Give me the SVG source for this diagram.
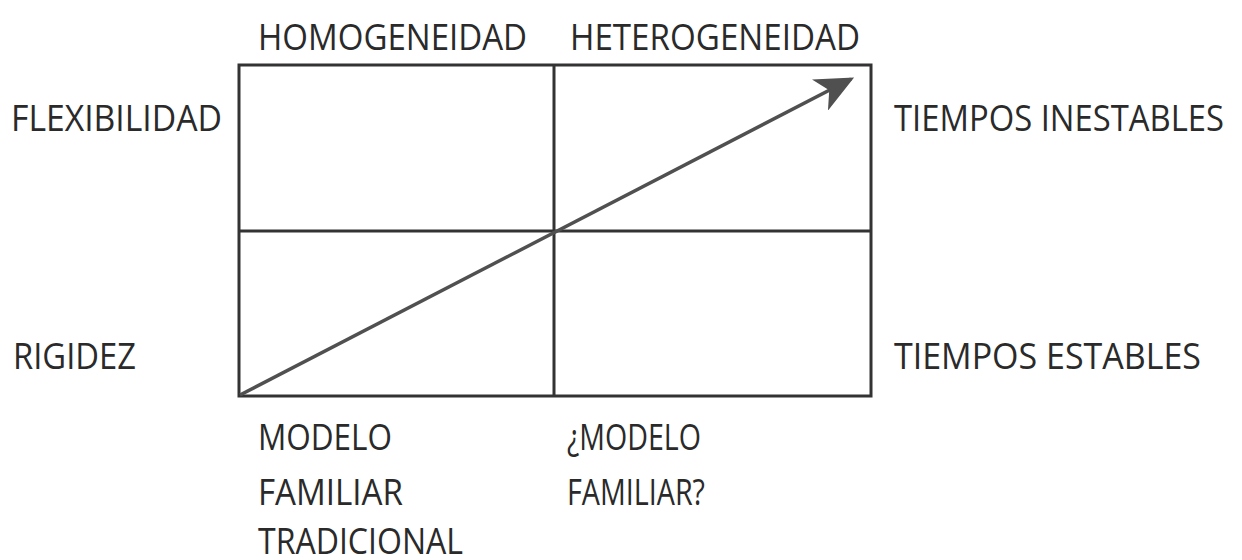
<svg xmlns="http://www.w3.org/2000/svg" width="1242" height="560" viewBox="0 0 1242 560">
<style>
.t{font-family:"Open Sans","Noto Sans",sans-serif;font-size:37px;fill:#2a2a2a}
.g{fill:none;stroke:#333;stroke-width:3}
</style>
<defs>
<marker id="ah" markerWidth="12" markerHeight="10" refX="10" refY="5" orient="auto" markerUnits="strokeWidth">
<path d="M0,0 L11,5 L0,10 L3,5 Z" fill="#505050"/>
</marker>
</defs>
<rect width="1242" height="560" fill="#fff"/>
<g id="grid">
<rect class="g" x="239" y="65" width="632" height="331"/>
<line class="g" x1="554" y1="65" x2="554" y2="396"/>
<line class="g" x1="239" y1="231" x2="871" y2="231"/>
</g>
<g id="connectors">
<line x1="240" y1="395" x2="851" y2="79" stroke="#505050" stroke-width="3.5" marker-end="url(#ah)"/>
</g>
<g id="col-labels">
<text class="t" x="258" y="50" textLength="269" lengthAdjust="spacingAndGlyphs">HOMOGENEIDAD</text>
<text class="t" x="570" y="50" textLength="290" lengthAdjust="spacingAndGlyphs">HETEROGENEIDAD</text>
</g>
<g id="row-labels">
<text class="t" x="11" y="131" textLength="211" lengthAdjust="spacingAndGlyphs">FLEXIBILIDAD</text>
<text class="t" x="13" y="369" textLength="123" lengthAdjust="spacingAndGlyphs">RIGIDEZ</text>
<text class="t" x="894" y="131" textLength="330" lengthAdjust="spacingAndGlyphs">TIEMPOS INESTABLES</text>
<text class="t" x="894" y="369" textLength="307" lengthAdjust="spacingAndGlyphs">TIEMPOS ESTABLES</text>
</g>
<g id="bottom-left">
<text class="t" x="258" y="450" textLength="134" lengthAdjust="spacingAndGlyphs">MODELO</text>
<text class="t" x="258" y="505" textLength="145" lengthAdjust="spacingAndGlyphs">FAMILIAR</text>
<text class="t" x="258" y="554" textLength="205" lengthAdjust="spacingAndGlyphs">TRADICIONAL</text>
</g>
<g id="bottom-right">
<text class="t" x="567" y="450" textLength="134" lengthAdjust="spacingAndGlyphs">¿MODELO</text>
<text class="t" x="567" y="505" textLength="138" lengthAdjust="spacingAndGlyphs">FAMILIAR?</text>
</g>
</svg>
